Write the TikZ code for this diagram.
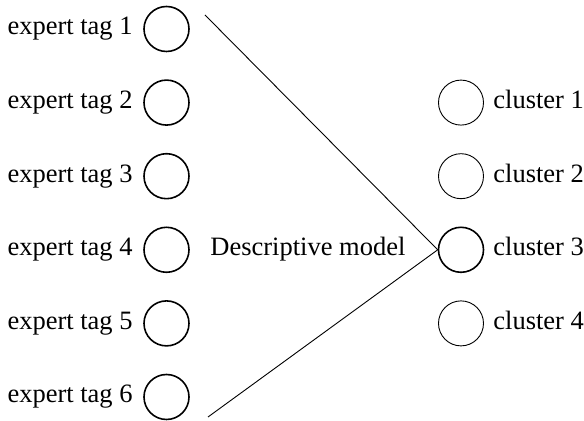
\documentclass[tikz,border=0pt]{standalone}
\usepackage{fontspec}
\setmainfont{Liberation Serif}
\begin{document}
\begin{tikzpicture}[x=0.5pt,y=-0.5pt,
  unit/.style={draw,circle,inner sep=0pt,minimum size=22.5pt,line width=0.8pt},
  thinunit/.style={unit,line width=0.45pt},
  lbl/.style={inner sep=0pt,font=\fontsize{13.25}{16}\selectfont},
  link/.style={line width=0.45pt}]
\useasboundingbox (0,0) rectangle (584,421);
% input layer: expert tags
\foreach \i/\y in {1/29,2/102.6,3/176.2,4/249.8,5/323.4,6/397} {
  \node[unit] (e\i) at (166.5,\y) {};
  \node[lbl,anchor=base east] (le\i) at (133,\y+6) {expert tag \i};
}
% output layer: clusters
\node[thinunit] (c1) at (461,102.6) {};
\node[thinunit] (c2) at (461,176.2) {};
\node[unit]     (c3) at (461,249.8) {};
\node[thinunit] (c4) at (461,323.4) {};
\foreach \i in {1,...,4} {
  \node[lbl,anchor=base west] (lc\i) at (493,{102.6+73.6*(\i-1)+6}) {cluster \i};
}
\node[lbl,anchor=base west] (dm) at (210,255.8) {Descriptive model};
% model wedge
\coordinate (top) at (205,15);
\coordinate (bot) at (208,417);
\draw[link] (top) -- (c3.west) -- (bot);
\end{tikzpicture}
\end{document}
